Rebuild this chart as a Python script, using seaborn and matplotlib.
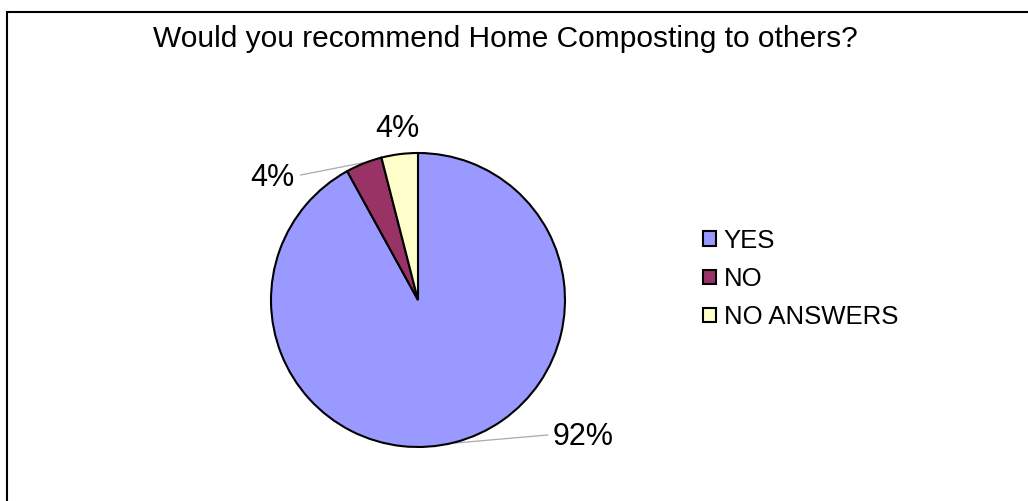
import numpy as np
import matplotlib
matplotlib.use("Agg")
import matplotlib.pyplot as plt
import seaborn as sns
from matplotlib.patches import Rectangle

categories = ["YES", "NO", "NO ANSWERS"]
values = [92, 4, 4]
colors = ["#9999FF", "#993366", "#FFFFCC"]
title = "Would you recommend Home Composting to others?"

sns.set_theme(style="white")
plt.rcParams['font.family'] = ['Liberation Sans', 'DejaVu Sans']
plt.rcParams['text.color'] = 'black'

W, H = 1028, 501
fig = plt.figure(figsize=(W / 100, H / 100), dpi=100)
fig.patch.set_facecolor("white")

# outer border (cropped at right and bottom)
fig.add_artist(Rectangle((7 / W, -0.1), 1.2, (H - 12) / H + 0.1, transform=fig.transFigure,
                         fill=False, edgecolor="black", linewidth=1.5))

cx, cy, r = 418, 300, 147
ax = fig.add_axes([(cx - r) / W, (H - cy - r) / H, 2 * r / W, 2 * r / H])
wedges, _ = ax.pie(values, colors=colors, startangle=90, counterclock=False,
                   wedgeprops=dict(edgecolor="black", linewidth=1.5), radius=1.0)
ax.set_xlim(-1, 1)
ax.set_ylim(-1, 1)
ax.set_aspect("equal")
ax.axis("off")

# labels with leader lines
label_pos = {0: (1.12, -0.93), 1: (-0.99, 0.83), 2: (-0.14, 1.16)}
leader_start = {0: (0.884, -0.918), 1: (-0.80, 0.85), 2: None}
total = sum(values)
for i, w in enumerate(wedges):
    ang = np.deg2rad((w.theta1 + w.theta2) / 2)
    ex, ey = np.cos(ang), np.sin(ang)
    pct = f"{round(values[i] / total * 100)}%"
    tx, ty = label_pos[i]
    if leader_start[i] is not None:
        sx, sy = leader_start[i]
        ax.plot([sx, ex * 1.005], [sy, ey * 1.005], color="#AAAAAA", lw=0.9,
                clip_on=False, zorder=0.5)
    ax.text(tx, ty, pct, ha="center", va="center", fontsize=22, color="black")

fig.text(505 / W, 1 - 47 / H, title, ha="center", va="baseline", fontsize=21.5, color="black")

handles = [Rectangle((0, 0), 1, 1, facecolor=c, edgecolor="black", linewidth=1.5) for c in colors]
leg = fig.legend(handles, categories, loc="center left", bbox_to_anchor=(703 / W, 1 - 279 / H),
                 frameon=False, fontsize=18.5, handlelength=0.5, handleheight=0.5,
                 handletextpad=0.3, labelspacing=0.55, borderaxespad=0, borderpad=0,
                 labelcolor="black")

fig.savefig("out.png", dpi=100, facecolor="white")
